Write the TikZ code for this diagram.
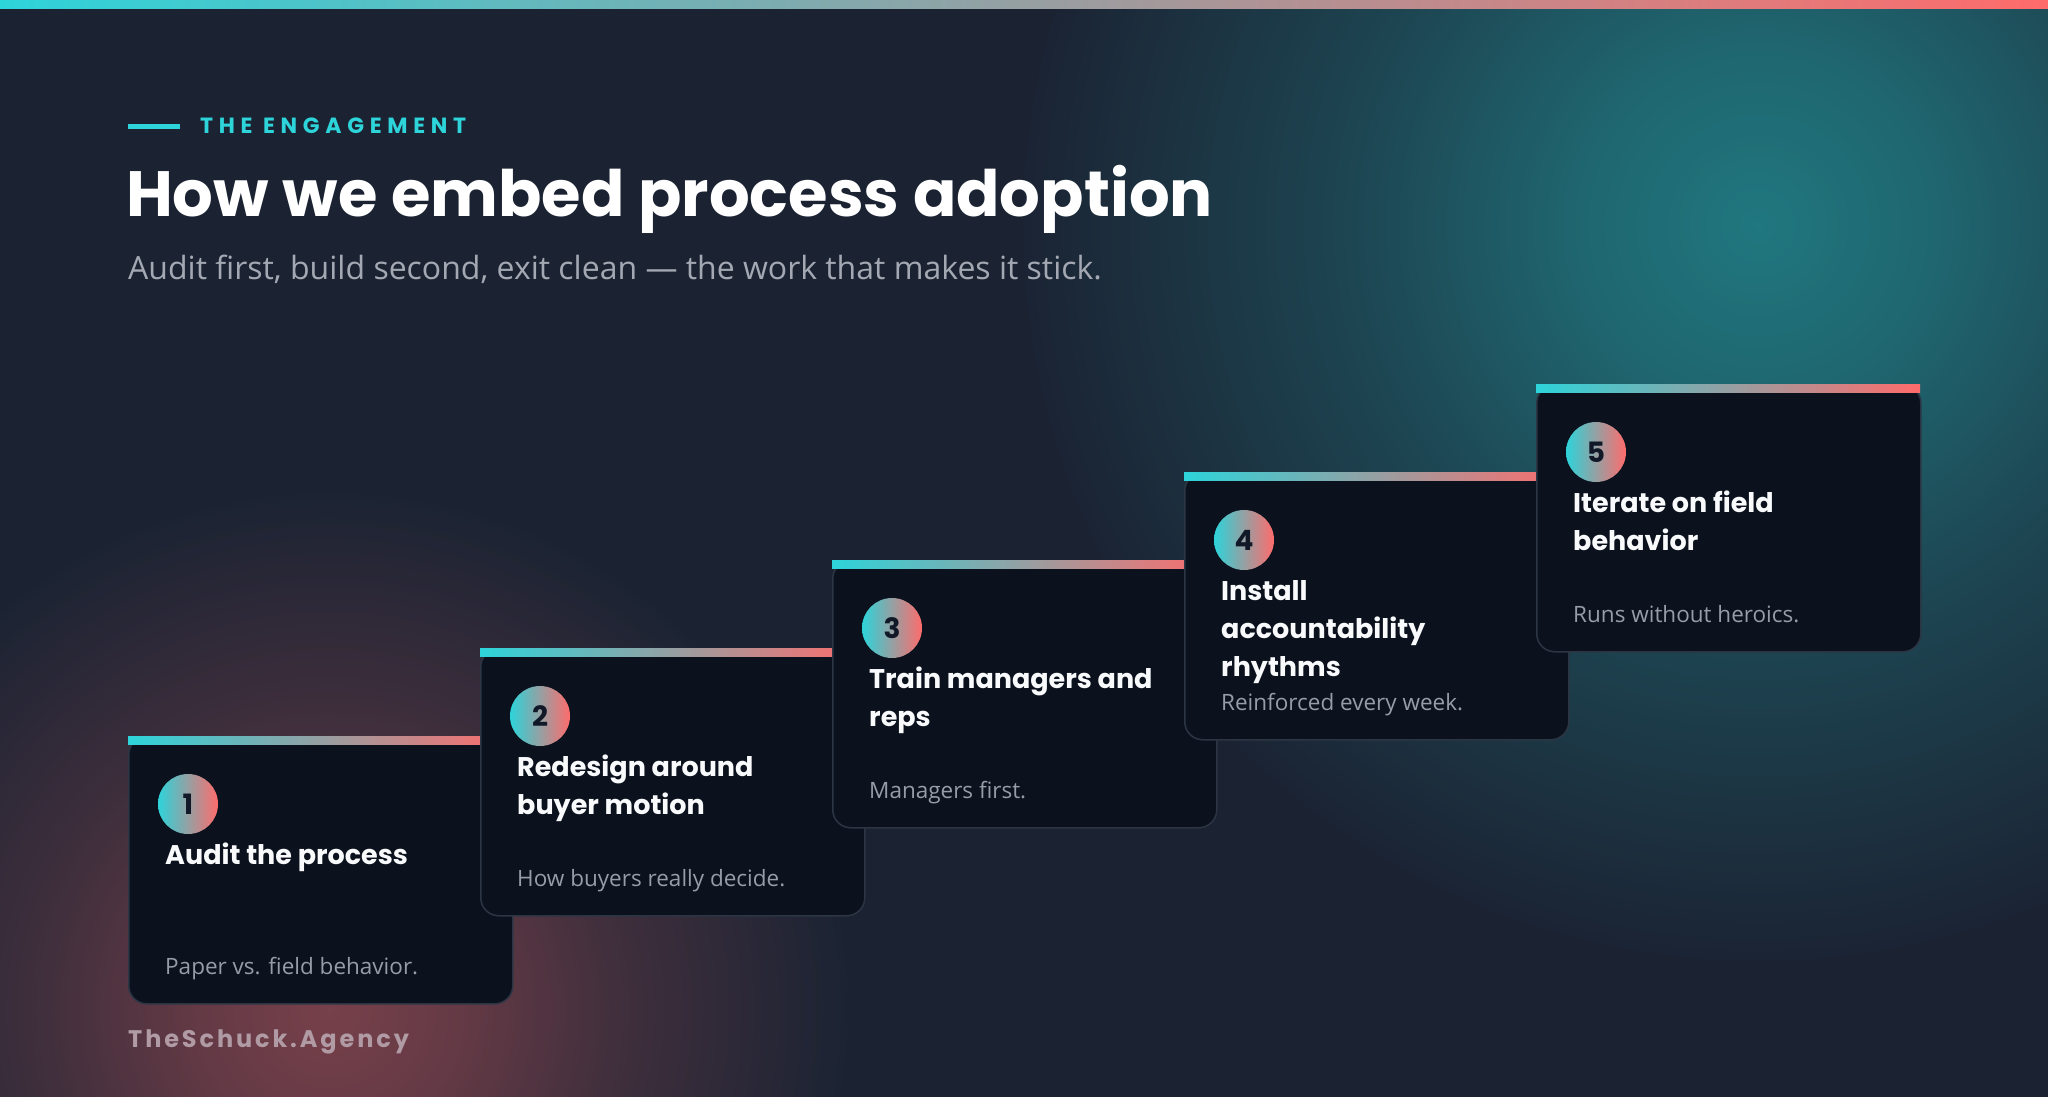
\documentclass[tikz,border=0pt]{standalone}
\usepackage{fontspec}
\setmainfont{Open Sans}
\newfontfamily\headfont{Poppins}
\newfontfamily\kickerfont{Poppins}[LetterSpace=26]
\newfontfamily\brandfont{Poppins}[LetterSpace=12]
\definecolor{bgc}{HTML}{1B2333}
\definecolor{glowT}{HTML}{20777F}
\definecolor{glowR}{HTML}{77404A}
\definecolor{cyanc}{HTML}{2DD4DA}
\definecolor{coralc}{HTML}{FF6B6B}
\definecolor{cardfill}{HTML}{0C121D}
\definecolor{cardline}{HTML}{2C3543}
\definecolor{titlec}{HTML}{F8FAFC}
\definecolor{descc}{HTML}{979CA6}
\definecolor{subc}{HTML}{A3A8B2}
\definecolor{numc}{HTML}{111827}
\definecolor{brandc}{HTML}{B09AA4}
\pgfdeclareradialshading{tealglow}{\pgfpoint{0bp}{0bp}}{color(0bp)=(glowT);color(6bp)=(glowT!80!bgc);color(14bp)=(glowT!40!bgc);color(25bp)=(bgc);color(50bp)=(bgc)}
\pgfdeclareradialshading{redglow}{\pgfpoint{0bp}{0bp}}{color(0bp)=(glowR);color(6bp)=(glowR!80!bgc);color(14bp)=(glowR!40!bgc);color(25bp)=(bgc);color(50bp)=(bgc)}
\tikzset{
  cardbox/.style={draw=cardline, line width=1.5pt, fill=cardfill, rounded corners=18pt,
    minimum width=384pt, minimum height=267pt, anchor=north west, inner sep=0pt},
  numdot/.style={circle, minimum size=60pt, inner sep=0pt, left color=cyanc, right color=coralc,
    text=numc, font=\headfont\bfseries\fontsize{28}{28}\selectfont},
  ctitle/.style={anchor=base west, inner sep=0pt, text=titlec, font=\headfont\bfseries\fontsize{27}{30}\selectfont},
  cdesc/.style={anchor=base west, inner sep=0pt, text=descc, font=\fontsize{22.5}{24}\selectfont},
  topbar/.style={left color=cyanc, right color=coralc},
}
\begin{document}
\begin{tikzpicture}[x=1pt,y=-1pt]
\useasboundingbox (0,0) rectangle (2048,1096);
\fill[bgc] (-20,-20) rectangle (2068,1116);
\begin{scope}
\clip (-20,-20) rectangle (2068,1116);
\shade[shading=tealglow] (1758,225) circle (740);
\shade[shading=redglow] (330,1010) circle (520);
\end{scope}
\shade[topbar] (0,-2) rectangle (2048,8);

% header
\draw[cyanc, line width=5pt] (128,126) -- (180,126);
\node[anchor=base west, inner sep=0pt, text=cyanc, font=\kickerfont\bfseries\fontsize{22}{22}\selectfont] (kicker) at (200,133) {THE ENGAGEMENT};
\node[anchor=base west, inner sep=0pt, text=white, font=\headfont\bfseries\fontsize{64}{64}\selectfont] (title) at (126,216) {How we embed process adoption};
\node[anchor=base west, inner sep=0pt, text=subc, font=\fontsize{32}{34}\selectfont] (subtitle) at (128,279) {Audit first, build second, exit clean — the work that makes it stick.};

% card 1
\node[cardbox] (c1) at (128,736) {};
\shade[topbar] (128,736) rectangle (512,744);
\node[numdot] (n1) at (188,804) {1};
\node[ctitle] (t1a) at (165,864) {Audit the process};
\node[cdesc] (d1) at (165,974) {Paper vs. field behavior.};

% card 2
\node[cardbox] (c2) at (480,648) {};
\shade[topbar] (480,648) rectangle (864,656);
\node[numdot] (n2) at (540,716) {2};
\node[ctitle] (t2a) at (517,776) {Redesign around};
\node[ctitle] (t2b) at (517,814) {buyer motion};
\node[cdesc] (d2) at (517,886) {How buyers really decide.};

% card 3
\node[cardbox] (c3) at (832,560) {};
\shade[topbar] (832,560) rectangle (1216,568);
\node[numdot] (n3) at (892,628) {3};
\node[ctitle] (t3a) at (869,688) {Train managers and};
\node[ctitle] (t3b) at (869,726) {reps};
\node[cdesc] (d3) at (869,798) {Managers first.};

% card 4
\node[cardbox] (c4) at (1184,472) {};
\shade[topbar] (1184,472) rectangle (1568,480);
\node[numdot] (n4) at (1244,540) {4};
\node[ctitle] (t4a) at (1221,600) {Install};
\node[ctitle] (t4b) at (1221,638) {accountability};
\node[ctitle] (t4c) at (1221,676) {rhythms};
\node[cdesc] (d4) at (1221,710) {Reinforced every week.};

% card 5
\node[cardbox] (c5) at (1536,384) {};
\shade[topbar] (1536,384) rectangle (1920,392);
\node[numdot] (n5) at (1596,452) {5};
\node[ctitle] (t5a) at (1573,512) {Iterate on field};
\node[ctitle] (t5b) at (1573,550) {behavior};
\node[cdesc] (d5) at (1573,622) {Runs without heroics.};

% brand
\node[anchor=base west, inner sep=0pt, text=brandc, font=\brandfont\bfseries\fontsize{24}{24}\selectfont] (brand) at (128,1047) {TheSchuck.Agency};
\end{tikzpicture}
\end{document}
